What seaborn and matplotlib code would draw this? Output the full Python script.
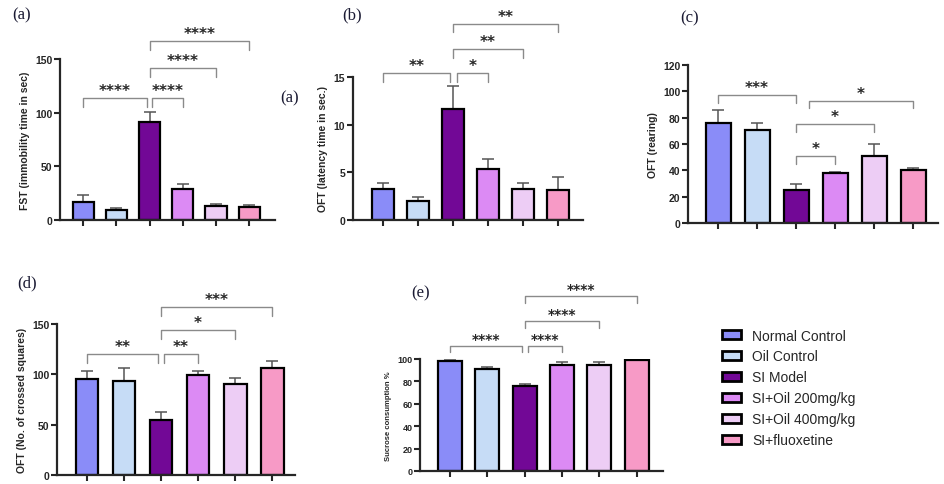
import numpy as np
import pandas as pd
import matplotlib
matplotlib.use('Agg')
import matplotlib.pyplot as plt
from matplotlib.patches import Patch
import seaborn as sns

# groups and colours
groups = ['Normal Control', 'Oil Control', 'SI Model',
          'SI+Oil 200mg/kg', 'SI+Oil 400mg/kg', 'SI+fluoxetine']
colors = ['#8a8cf8', '#c6dcf6', '#720896', '#dc8af4', '#edcdf5', '#f79ac6']

# (a) FST immobility
fst_mean = [17, 9, 91, 29, 13, 12]
fst_sem = [6, 2, 10, 5, 2, 2]
# (b) OFT latency
lat_mean = [3.2, 2.0, 11.6, 5.3, 3.2, 3.1]
lat_sem = [0.7, 0.4, 2.5, 1.1, 0.7, 1.4]
# (c) OFT rearing
rear_mean = [76, 71, 25, 38, 51, 40]
rear_sem = [10, 5, 5, 1, 9, 2]
# (d) OFT crossed squares
cross_mean = [95, 93, 55, 99, 90, 106]
cross_sem = [8, 13, 8, 4, 6, 7]
# (e) sucrose consumption
suc_mean = [98, 91, 76, 95, 94.5, 99]
suc_sem = [1, 2, 1.5, 2, 2.5, 1]

# significance brackets: (x1, x2, level, stars)
fst_sig = [(0, 1.92, 114, '****'), (2.08, 3, 114, '****'),
           (2, 4, 142, '****'), (2, 5, 167, '****')]
lat_sig = [(0, 1.92, 15.4, '**'), (2.1, 3, 15.4, '*'),
           (2, 4, 17.9, '**'), (2, 5, 20.6, '**')]
rear_sig = [(0, 2, 97, '***'), (2, 3, 51, '*'),
            (2, 4, 75, '*'), (2.33, 5, 93, '*')]
cross_sig = [(0, 1.92, 120, '**'), (2.08, 3, 120, '**'),
             (2, 4, 144, '*'), (2, 5, 167, '***')]
suc_sig = [(0, 1.92, 112, '****'), (2.08, 3, 112, '****'),
           (2, 4, 134, '****'), (2, 5, 156, '****')]

sns.set_style('ticks')
plt.rcParams['font.family'] = ['Liberation Sans', 'DejaVu Sans']

W, H = 945, 485
fig = plt.figure(figsize=(W / 100, H / 100), dpi=100)


def px_axes(left, top, right, bottom):
    return fig.add_axes([left / W, 1 - bottom / H, (right - left) / W, (bottom - top) / H])


def panel(ax, means, sems, sig, ymax, yticks, xlim, ylabel, width=0.64,
          tick_fs=7.5, label_fs=7.5, drop=0.06, star_fs=11):
    df = pd.DataFrame({'group': groups, 'value': means})
    sns.barplot(data=df, x='group', y='value', hue='group', order=groups,
                hue_order=groups, palette=colors, saturation=1, width=width,
                edgecolor='black', linewidth=1.6, errorbar=None, legend=False, ax=ax)
    ax.errorbar(range(len(groups)), means, yerr=[np.zeros(len(sems)), sems],
                fmt='none', ecolor='#555555', elinewidth=1.1, capsize=4,
                capthick=1.1, zorder=0.9)
    ax.set_xlim(*xlim)
    ax.set_ylim(0, ymax)
    ax.set_yticks(yticks)
    ax.set_xticks(range(len(groups)))
    ax.set_xticklabels([])
    ax.set_xlabel('')
    ax.set_ylabel(ylabel, fontsize=label_fs, fontweight='bold')
    for lab in ax.get_yticklabels():
        lab.set_fontweight('bold')
        lab.set_fontsize(tick_fs)
    ax.tick_params(axis='both', width=1.5, length=4, direction='out', pad=1.5)
    sns.despine(ax=ax)
    for s in ['left', 'bottom']:
        ax.spines[s].set_linewidth(1.6)
    d = drop * ymax
    for x1, x2, lev, stars in sig:
        ax.plot([x1, x1, x2, x2], [lev - d, lev, lev, lev - d], color='#8a8a8a',
                lw=1, clip_on=False)
        ax.annotate(stars, xy=((x1 + x2) / 2, lev), xytext=(0, 0),
                    textcoords='offset points', ha='center', va='bottom',
                    fontsize=star_fs, fontweight='bold', annotation_clip=False,
                    family=['DejaVu Sans'])


ax_a = px_axes(60, 60, 275, 221)
panel(ax_a, fst_mean, fst_sem, fst_sig, 150, [0, 50, 100, 150], (-0.7, 5.78),
      'FST (immobility time in sec)')

ax_b = px_axes(353, 78, 583, 221)
panel(ax_b, lat_mean, lat_sem, lat_sig, 15, [0, 5, 10, 15], (-0.86, 5.71),
      'OFT (latency time in sec.)')

ax_c = px_axes(688, 66, 938, 224)
panel(ax_c, rear_mean, rear_sem, rear_sig, 120, [0, 20, 40, 60, 80, 100, 120],
      (-0.77, 5.64), 'OFT (rearing)', drop=0.05)

ax_d = px_axes(57, 325, 295, 476)
panel(ax_d, cross_mean, cross_sem, cross_sig, 150, [0, 50, 100, 150],
      (-0.81, 5.62), 'OFT (No. of crossed squares)', width=0.62)

ax_e = px_axes(420, 360, 663, 472)
panel(ax_e, suc_mean, suc_sem, suc_sig, 100, [0, 20, 40, 60, 80, 100],
      (-0.8, 5.7), 'Sucrose consumption %', tick_fs=6.5, label_fs=5.5, star_fs=10)

# panel letters
for txt, x, y in [('(a)', 22, 15), ('(b)', 352, 15), ('(c)', 690, 18),
                  ('(d)', 27, 283), ('(e)', 421, 293), ('(a)', 290, 98)]:
    fig.text(x / W, 1 - y / H, txt, ha='center', va='center', fontsize=12,
             family=['Liberation Serif', 'DejaVu Serif'], color='#1a1a33')

handles = [Patch(facecolor=c, edgecolor='black', linewidth=2) for c in colors]
fig.legend(handles, groups, loc='upper left', bbox_to_anchor=(716 / W, 1 - 324 / H),
           frameon=False, fontsize=10, handlelength=1.4, handleheight=0.55,
           handletextpad=0.8, labelspacing=0.5, borderaxespad=0)

fig.savefig('out.png', dpi=100)
